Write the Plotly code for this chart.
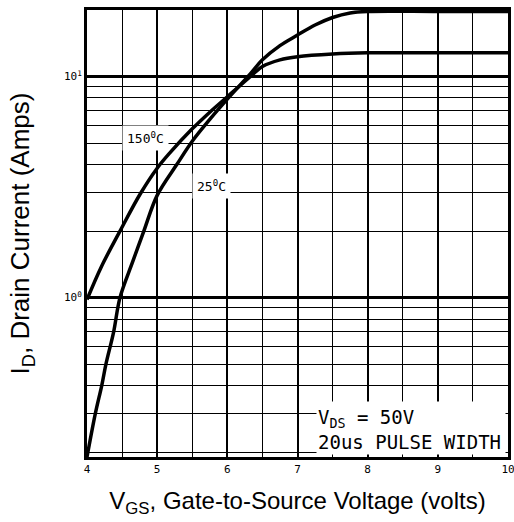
import plotly.graph_objects as go

# Data
vgs_25 = [4.0, 4.12, 4.21, 4.27, 4.38, 4.47, 4.65, 4.81, 5.0, 5.28, 5.5, 5.75, 6.0, 6.33, 6.5, 6.75, 7.0, 7.25, 7.5, 7.75, 8.0, 9.0, 10.0]
id_25 = [0.19, 0.3, 0.4, 0.5, 0.7, 1.0, 1.45, 2.0, 2.9, 4.0, 5.1, 6.4, 7.9, 10.3, 11.9, 13.8, 15.4, 17.1, 18.5, 19.4, 19.7, 19.7, 19.7]

vgs_150 = [4.0, 4.2, 4.47, 4.76, 5.0, 5.19, 5.5, 5.75, 6.0, 6.33, 6.5, 6.75, 7.0, 7.5, 8.0, 9.0, 10.0]
id_150 = [0.98, 1.37, 2.0, 2.95, 3.85, 4.55, 5.8, 6.9, 8.1, 10.0, 11.1, 11.9, 12.3, 12.65, 12.8, 12.8, 12.8]

x_ticks = [4, 5, 6, 7, 8, 9, 10]
x_minor = [4.5, 5.5, 6.5, 7.5, 8.5, 9.5]
y_ticks = [1, 10]
y_ticktext = ["10<sup>0</sup>", "10<sup>1</sup>"]
y_minor = [0.2, 0.3, 0.4, 0.5, 0.6, 0.7, 0.8, 0.9, 2, 3, 4, 5, 6, 7, 8, 9]

mono = "DejaVu Sans Mono"
sans = "Liberation Sans, Arial"

fig = go.Figure()
fig.add_trace(go.Scatter(x=vgs_25, y=id_25, mode="lines", name="25°C",
                         line=dict(color="black", width=3.5, shape="spline", smoothing=1.0)))
fig.add_trace(go.Scatter(x=vgs_150, y=id_150, mode="lines", name="150°C",
                         line=dict(color="black", width=3.5, shape="spline", smoothing=1.0)))

fig.add_annotation(x=4.84, y=0.724, xref="x", yref="y", text="150<sup>0</sup>C",
                   showarrow=False, font=dict(family=mono, size=13, color="black"),
                   bgcolor="white", borderpad=4)
fig.add_annotation(x=5.77, y=0.507, xref="x", yref="y", text="25<sup>0</sup>C",
                   showarrow=False, font=dict(family=mono, size=13, color="black"),
                   bgcolor="white", borderpad=4)
fig.add_annotation(x=9.975, y=0.0035, xref="x", yref="paper", xanchor="right", yanchor="bottom",
                   text="V<sub>DS</sub> = 50V<br>20us PULSE WIDTH", align="left", valign="bottom",
                   showarrow=False, font=dict(family=mono, size=19, color="black"),
                   bgcolor="white", width=186, height=50, borderpad=1)

fig.update_layout(
    width=514, height=522,
    margin=dict(l=87, r=6, t=10, b=65),
    paper_bgcolor="white", plot_bgcolor="white",
    showlegend=False,
)
fig.update_xaxes(
    range=[4, 10], tickvals=x_ticks, ticks="", automargin=False, ticklabeloverflow="allow",
    tickfont=dict(family=mono, size=11, color="black"),
    showgrid=True, gridcolor="black", gridwidth=2,
    minor=dict(tickvals=x_minor, showgrid=True, gridcolor="black", gridwidth=1),
    showline=True, linecolor="black", linewidth=3, mirror=True, zeroline=False,
    title=dict(text="V<sub>GS</sub>, Gate-to-Source Voltage (volts)",
               font=dict(family=sans, size=24, color="black"), standoff=17),
)
fig.update_yaxes(
    type="log", range=[-0.721, 1.301], tickvals=y_ticks, ticktext=y_ticktext, ticks="",
    automargin=False, ticklabeloverflow="allow",
    tickfont=dict(family=mono, size=11, color="black"),
    showgrid=True, gridcolor="black", gridwidth=3,
    minor=dict(tickvals=y_minor, showgrid=True, gridcolor="black", gridwidth=1.3),
    showline=True, linecolor="black", linewidth=3, mirror=True, zeroline=False,
    title=dict(text="I<sub>D</sub>, Drain Current (Amps)",
               font=dict(family=sans, size=26, color="black"), standoff=27),
)

fig.write_html("out.html", config={"displayModeBar": False},
               post_script="document.body.style.margin='0px';")
